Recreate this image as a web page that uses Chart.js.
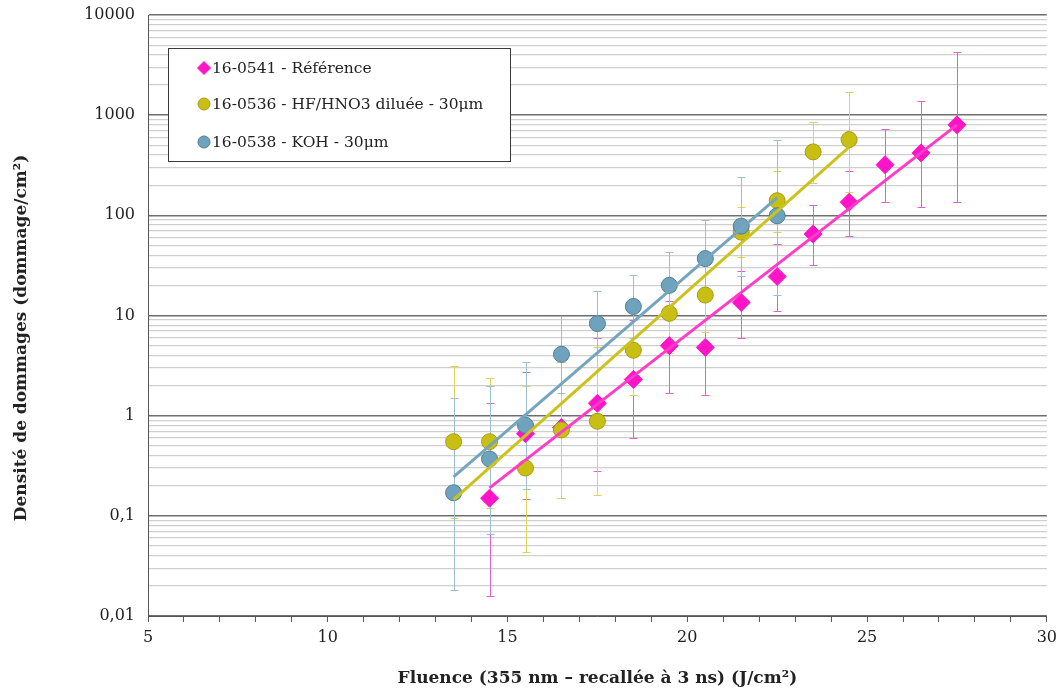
<!DOCTYPE html>
<html>
<head>
<meta charset="utf-8">
<script src="https://cdn.jsdelivr.net/npm/chart.js@4/dist/chart.umd.min.js"></script>
<style>
    html, body { margin: 0; padding: 0; background: #fff; }
    #wrap { width: 1063px; height: 689px; }
</style>
</head>
<body>
<div id="wrap"><canvas id="damageChart" width="1063" height="689"></canvas></div>
<script>
// Fluence (J/cm2) and damage density (dommage/cm2)
const refX = [14.5, 15.5, 16.5, 17.5, 18.5, 19.5, 20.5, 21.5, 22.5, 23.5, 24.5, 25.5, 26.5, 27.5];
const refY = [0.15, 0.66, 0.76, 1.33, 2.3, 5.0, 4.8, 13.5, 24.5, 65, 135, 320, 420, 800];
const refLow = [0.016, 0.148, 0.15, 0.28, 0.6, 1.7, 1.6, 5.9, 11, 32, 62, 137, 120, 137];
const refHigh = [1.35, 2.75, 3.4, 6.0, 9.1, 14, 14.4, 28, 52, 128, 280, 720, 1400, 4300];

const hfX = [13.5, 14.5, 15.5, 16.5, 17.5, 18.5, 19.5, 20.5, 21.5, 22.5, 23.5, 24.5];
const hfY = [0.55, 0.55, 0.3, 0.72, 0.88, 4.5, 10.5, 16, 68, 140, 430, 570];
const hfLow = [0.095, 0.12, 0.044, 0.15, 0.16, 1.6, 4.2, 6.8, 38, 68, 210, 172];
const hfHigh = [3.1, 2.4, 2.0, 3.4, 4.8, 12.6, 22, 37, 121, 275, 860, 1720];

const kohX = [13.5, 14.5, 15.5, 16.5, 17.5, 18.5, 19.5, 20.5, 21.5, 22.5];
const kohY = [0.17, 0.37, 0.8, 4.1, 8.3, 12.3, 20, 37, 78, 99];
const kohLow = [0.018, 0.066, 0.186, 1.7, 4.0, 5.9, 9.3, 15, 25, 16];
const kohHigh = [1.5, 2.0, 3.4, 9.8, 17.4, 25.6, 43, 90, 240, 560];

// exponential trend lines (end points)
const refTrendX = [14.5, 27.5];
const refTrendY = [0.19, 800];
const hfTrendX = [13.5, 24.5];
const hfTrendY = [0.145, 480];
const kohTrendX = [13.5, 22.5];
const kohTrendY = [0.245, 150];

const seriesLabels = ['16-0541 - Référence', '16-0536 - HF/HNO3 diluée - 30μm', '16-0538 - KOH - 30μm'];
const yTitle = 'Densité de dommages (dommage/cm²)';
const yDecades = [0.01, 0.1, 1, 10, 100, 1000, 10000];
const xLabelStep = 5;

const PINK = '#ff14c8';
const YELLOW = '#c9bf14';
const BLUE = '#6fa2bc';

const SERIF = '"DejaVu Serif", "Liberation Serif", serif';
Chart.defaults.font.family = SERIF;
Chart.defaults.color = '#222';

function toPoints(xs, ys) {
    return xs.map((x, i) => ({ x: x, y: ys[i] }));
}

function yMinorTicks() {
    const ticks = [];
    yDecades.forEach((d, i) => {
        if (i === yDecades.length - 1) {
            ticks.push({ value: d, major: true });
            return;
        }
        for (let k = 1; k < 10; k++) {
            ticks.push({ value: d * k, major: k === 1 });
        }
    });
    return ticks;
}

const errorSets = [
    { x: refX, low: refLow, high: refHigh, color: '#dc62d0' },
    { x: hfX, low: hfLow, high: hfHigh, color: '#dbd35c' },
    { x: kohX, low: kohLow, high: kohHigh, color: '#9bbfd1' }
];

// Error bars drawn behind the markers
const errorBarPlugin = {
    id: 'errorBars',
    beforeDatasetsDraw(chart) {
        const ctx = chart.ctx;
        const xs = chart.scales.x;
        const ys = chart.scales.y;
        ctx.save();
        ctx.lineWidth = 1;
        errorSets.forEach(s => {
            ctx.strokeStyle = s.color;
            s.x.forEach((xv, i) => {
                const px = Math.round(xs.getPixelForValue(xv)) + 0.5;
                const top = Math.round(ys.getPixelForValue(s.high[i])) + 0.5;
                const bot = Math.round(ys.getPixelForValue(s.low[i])) + 0.5;
                ctx.beginPath();
                ctx.moveTo(px, top);
                ctx.lineTo(px, bot);
                ctx.moveTo(px - 4, top);
                ctx.lineTo(px + 4, top);
                ctx.moveTo(px - 4, bot);
                ctx.lineTo(px + 4, bot);
                ctx.stroke();
            });
        });
        ctx.restore();
    }
};

// Y axis title, placed a little below the middle like the original
const yTitlePlugin = {
    id: 'yTitle',
    afterDraw(chart) {
        const ctx = chart.ctx;
        ctx.save();
        ctx.translate(22, 338);
        ctx.rotate(-Math.PI / 2);
        ctx.font = 'bold 17px ' + SERIF;
        ctx.fillStyle = '#222';
        ctx.textAlign = 'center';
        ctx.textBaseline = 'middle';
        ctx.fillText(yTitle, 0, 0);
        ctx.restore();
    }
};

// Boxed legend in the upper left of the plot
const boxLegendPlugin = {
    id: 'boxLegend',
    afterDraw(chart) {
        const ctx = chart.ctx;
        const left = 168, top = 48, width = 342, height = 113;
        ctx.save();
        ctx.fillStyle = '#fff';
        ctx.fillRect(left, top, width, height);
        ctx.strokeStyle = '#3a3a3a';
        ctx.lineWidth = 1;
        ctx.strokeRect(left + 0.5, top + 0.5, width, height);
        const rows = [68, 104, 142];
        const markers = [
            { style: 'rectRot', fill: PINK, border: PINK, r: 6.5 },
            { style: 'circle', fill: YELLOW, border: '#a89c10', r: 6 },
            { style: 'circle', fill: BLUE, border: '#4f7f96', r: 6 }
        ];
        ctx.font = '15.5px ' + SERIF;
        ctx.textBaseline = 'middle';
        seriesLabels.forEach((label, i) => {
            const m = markers[i];
            ctx.fillStyle = m.fill;
            ctx.strokeStyle = m.border;
            ctx.lineWidth = 1;
            Chart.helpers.drawPoint(ctx, { pointStyle: m.style, radius: m.r, borderWidth: 1 }, 204, rows[i]);
            ctx.fillStyle = '#222';
            ctx.fillText(label, 212, rows[i] + 1);
        });
        ctx.restore();
    }
};

const chart = new Chart(document.getElementById('damageChart').getContext('2d'), {
    type: 'scatter',
    data: {
        datasets: [
            {
                label: 'trend ref',
                data: toPoints(refTrendX, refTrendY),
                showLine: true,
                borderColor: '#ff3cc8',
                borderWidth: 3,
                pointRadius: 0,
                order: 1
            },
            {
                label: 'trend hf',
                data: toPoints(hfTrendX, hfTrendY),
                showLine: true,
                borderColor: '#cbc31c',
                borderWidth: 3,
                pointRadius: 0,
                order: 2
            },
            {
                label: 'trend koh',
                data: toPoints(kohTrendX, kohTrendY),
                showLine: true,
                borderColor: '#74a5bd',
                borderWidth: 3,
                pointRadius: 0,
                order: 3
            },
            {
                label: seriesLabels[2],
                data: toPoints(kohX, kohY),
                pointStyle: 'circle',
                pointRadius: 8,
                backgroundColor: BLUE,
                borderColor: '#4f7f96',
                borderWidth: 1,
                order: 4
            },
            {
                label: seriesLabels[1],
                data: toPoints(hfX, hfY),
                pointStyle: 'circle',
                pointRadius: 8,
                backgroundColor: YELLOW,
                borderColor: '#a89c10',
                borderWidth: 1,
                order: 5
            },
            {
                label: seriesLabels[0],
                data: toPoints(refX, refY),
                pointStyle: 'rectRot',
                pointRadius: 9,
                backgroundColor: PINK,
                borderColor: PINK,
                borderWidth: 1,
                order: 6
            }
        ]
    },
    options: {
        responsive: false,
        animation: false,
        layout: { padding: { top: 15, right: 15, left: 0, bottom: 0 } },
        plugins: {
            legend: { display: false },
            tooltip: { enabled: false }
        },
        scales: {
            x: {
                type: 'linear',
                min: 5,
                max: 30,
                afterFit: function(scale) { scale.height = 73; },
                border: { display: true, color: '#555', width: 1 },
                grid: {
                    drawOnChartArea: false,
                    drawTicks: true,
                    tickLength: 6,
                    color: '#555'
                },
                ticks: {
                    stepSize: 1,
                    autoSkip: false,
                    maxRotation: 0,
                    padding: 6,
                    font: { size: 16 },
                    color: '#222',
                    callback: function(value) {
                        return value % xLabelStep === 0 ? String(value) : '';
                    }
                },
                title: {
                    display: true,
                    text: 'Fluence (355 nm – recallée à 3 ns) (J/cm²)',
                    font: { size: 17, weight: 'bold' },
                    color: '#222',
                    padding: { top: 0, bottom: 0 }
                }
            },
            y: {
                type: 'logarithmic',
                min: 0.01,
                max: 10000,
                afterBuildTicks: function(scale) { scale.ticks = yMinorTicks(); },
                afterFit: function(scale) {
                    scale.width = 148;
                    scale.paddingTop = 0;
                    scale.paddingBottom = 0;
                },
                border: { display: true, color: '#555', width: 1 },
                grid: {
                    drawTicks: false,
                    color: ctx => (ctx.tick && ctx.tick.major) ? '#6e6e6e' : '#cfcfcf',
                    lineWidth: ctx => (ctx.tick && ctx.tick.major) ? 1.5 : 1.3
                },
                ticks: {
                    autoSkip: false,
                    padding: 13,
                    font: { size: 16 },
                    color: '#222',
                    callback: function(value) {
                        return yDecades.includes(value) ? String(value).replace('.', ',') : '';
                    }
                }
            }
        }
    },
    plugins: [errorBarPlugin, yTitlePlugin, boxLegendPlugin]
});
</script>
</body>
</html>
